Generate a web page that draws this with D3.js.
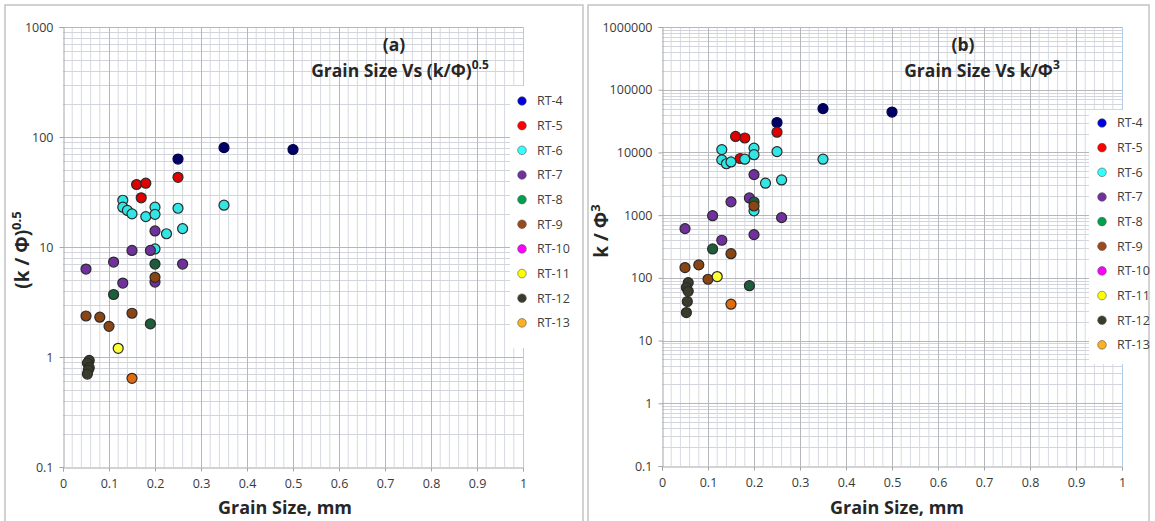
<!DOCTYPE html>
<html>
<head>
<meta charset="utf-8">
<script src="https://cdn.jsdelivr.net/npm/d3@7"></script>
<style>
  html, body { margin: 0; padding: 0; background: #fff; }
  svg { display: block; font-family: "Open Sans", "Liberation Sans", sans-serif; }
</style>
</head>
<body>
<svg id="chart" width="1155" height="521"></svg>
<script>
// Sample series (grain size in mm), with the two permeability/porosity groupings
const seriesNames = ["RT-4", "RT-5", "RT-6", "RT-7", "RT-8", "RT-9", "RT-10", "RT-11", "RT-12", "RT-13"];
const pointColors = ["#000066", "#e00000", "#33e6e6", "#7030a0", "#1d5e3a", "#8b4513", "#ff00ff", "#ffff33", "#3b3b2b", "#e36c0a"];
const legendColors = ["#0000dd", "#ff0000", "#33ffff", "#7030a0", "#00a050", "#9c4a1a", "#ff00ff", "#ffff00", "#3b3b2b", "#ffb020"];

const grainRT4 = [0.25, 0.35, 0.5];
const grainRT5 = [0.16, 0.18, 0.17, 0.25];
const grainRT6 = [0.13, 0.13, 0.14, 0.15, 0.18, 0.2, 0.2, 0.25, 0.35, 0.26, 0.225, 0.2];
const grainRT7 = [0.2, 0.15, 0.19, 0.11, 0.05, 0.26, 0.13, 0.2];
const grainRT8 = [0.2, 0.11, 0.19];
const grainRT9 = [0.2, 0.05, 0.08, 0.15, 0.1];
const grainRT10 = [];
const grainRT11 = [0.12];
const grainRT12 = [0.057, 0.053, 0.057, 0.055, 0.053];
const grainRT13 = [0.15];

// (k/phi)^0.5
const sqrtRT4 = [63, 80, 77];
const sqrtRT5 = [37, 38, 28, 43];
const sqrtRT6 = [26.6, 23, 21.5, 20, 18.9, 23, 19.8, 22.5, 24, 14.7, 13.2, 9.6];
const sqrtRT7 = [14, 9.3, 9.3, 7.3, 6.3, 7.0, 4.7, 4.8];
const sqrtRT8 = [7.0, 3.7, 2.0];
const sqrtRT9 = [5.3, 2.36, 2.3, 2.5, 1.9];
const sqrtRT10 = [];
const sqrtRT11 = [1.2];
const sqrtRT12 = [0.93, 0.88, 0.80, 0.76, 0.70];
const sqrtRT13 = [0.64];

// k/phi^3
const cubeRT4 = [30000, 50000, 44000];
const cubeRT5 = [18000, 17000, 8000, 21000];
const cubeRT6 = [11100, 7600, 6600, 7050, 7800, 11700, 9200, 10300, 7800, 3640, 3230, 1170];
const cubeRT7 = [4430, 1630, 1880, 980, 610, 912, 398, 489];
const cubeRT8 = [1620, 289, 75];
const cubeRT9 = [1400, 146, 161, 243, 95];
const cubeRT10 = [];
const cubeRT11 = [105];
const cubeRT12 = [84, 70, 61, 42, 28];
const cubeRT13 = [38];

const xTicks = [0, 0.1, 0.2, 0.3, 0.4, 0.5, 0.6, 0.7, 0.8, 0.9, 1];
const yTicksA = [0.1, 1, 10, 100, 1000];
const yTicksB = [0.1, 1, 10, 100, 1000, 10000, 100000, 1000000];

const grains = [grainRT4, grainRT5, grainRT6, grainRT7, grainRT8, grainRT9, grainRT10, grainRT11, grainRT12, grainRT13];
const sqrtVals = [sqrtRT4, sqrtRT5, sqrtRT6, sqrtRT7, sqrtRT8, sqrtRT9, sqrtRT10, sqrtRT11, sqrtRT12, sqrtRT13];
const cubeVals = [cubeRT4, cubeRT5, cubeRT6, cubeRT7, cubeRT8, cubeRT9, cubeRT10, cubeRT11, cubeRT12, cubeRT13];

const svg = d3.select("#chart");

function drawPanel(cfg) {
  const g = svg.append("g");
  // panel frame
  g.append("rect").attr("x", cfg.frame[0]).attr("y", cfg.frame[1])
    .attr("width", cfg.frame[2]).attr("height", cfg.frame[3])
    .attr("fill", "#fff").attr("stroke", "#c4c4c4").attr("stroke-width", 1.5);

  const x = d3.scaleLinear().domain([0, 1]).range([cfg.left, cfg.right]);
  const y = d3.scaleLog().domain(cfg.yDomain).range([cfg.bottom, cfg.top]);

  // minor vertical grid
  const minorX = d3.range(0, 51).map(i => i / 50).filter(v => Math.round(v * 50) % 5 !== 0);
  g.append("g").selectAll("line").data(minorX).join("line")
    .attr("x1", d => x(d)).attr("x2", d => x(d))
    .attr("y1", cfg.top).attr("y2", cfg.bottom)
    .attr("stroke", "#d8dae2").attr("stroke-width", 1);

  // minor horizontal grid
  const lo = Math.log10(cfg.yDomain[0]), hi = Math.log10(cfg.yDomain[1]);
  const minorY = [];
  for (let e = lo; e < hi; e++) for (let m = 2; m <= 9; m++) minorY.push(m * Math.pow(10, e));
  g.append("g").selectAll("line").data(minorY).join("line")
    .attr("x1", cfg.left).attr("x2", cfg.right)
    .attr("y1", d => Math.round(y(d)) + 0.5).attr("y2", d => Math.round(y(d)) + 0.5)
    .attr("stroke", "#d2d5dc").attr("stroke-width", 1);

  // major grid
  g.append("g").selectAll("line").data(xTicks.slice(1, -1)).join("line")
    .attr("x1", d => Math.round(x(d)) + 0.5).attr("x2", d => Math.round(x(d)) + 0.5)
    .attr("y1", cfg.top).attr("y2", cfg.bottom)
    .attr("stroke", "#b5b7bd").attr("stroke-width", 1);
  g.append("g").selectAll("line").data(cfg.yTicks.slice(1)).join("line")
    .attr("x1", cfg.left).attr("x2", cfg.right)
    .attr("y1", d => Math.round(y(d)) + 0.5).attr("y2", d => Math.round(y(d)) + 0.5)
    .attr("stroke", "#b5b7bd").attr("stroke-width", 1);

  // right edge
  g.append("line").attr("x1", cfg.right + 0.5).attr("x2", cfg.right + 0.5)
    .attr("y1", cfg.top).attr("y2", cfg.bottom).attr("stroke", "#b4cde6");

  // axes
  const xAxis = d3.axisBottom(x).tickValues(xTicks).tickSize(4).tickPadding(8)
    .tickFormat(d => d3.format("~g")(d));
  const gx = g.append("g").attr("transform", `translate(0,${cfg.bottom + 0.5})`).call(xAxis);
  const yAxis = d3.axisLeft(y).tickValues(cfg.yTicks).tickSize(4).tickPadding(6)
    .tickFormat(d => String(d));
  const gy = g.append("g").attr("transform", `translate(${cfg.left + 0.5},0)`).call(yAxis);
  [gx, gy].forEach(a => {
    a.select(".domain").attr("stroke", "#a6a6a6");
    a.selectAll(".tick line").attr("stroke", "#a6a6a6");
    a.selectAll("text").attr("fill", "#3a3a3a").attr("font-size", 12.5)
      .attr("font-family", "'Open Sans', sans-serif");
  });

  // points
  const pts = [];
  seriesNames.forEach((s, i) => {
    grains[i].forEach((gs, j) => pts.push({ s: i, gx: gs, v: cfg.values[i][j] }));
  });
  g.append("g").selectAll("circle").data(pts).join("circle")
    .attr("cx", d => x(d.gx)).attr("cy", d => y(d.v)).attr("r", 5)
    .attr("fill", d => pointColors[d.s])
    .attr("stroke", d => d.s === 0 ? "#000044" : "#2a2a2a").attr("stroke-width", 1.2);

  // titles
  g.append("text").attr("x", cfg.titleX).attr("y", 51).attr("text-anchor", "middle")
    .attr("font-weight", "bold").attr("fill", "#262626").attr("font-size", 17.5)
    .text(cfg.panelTag);
  const t2 = g.append("text").attr("x", cfg.titleX2).attr("y", 77).attr("text-anchor", "middle")
    .attr("font-weight", "bold").attr("fill", "#262626").attr("font-size", 17.5);
  t2.append("tspan").text(cfg.titleMain);
  t2.append("tspan").attr("font-size", 12).attr("dy", -8).text(cfg.titleSup);

  // x axis title
  g.append("text").attr("x", cfg.xTitleX).attr("y", 514)
    .attr("text-anchor", "middle").attr("font-weight", "bold").attr("font-size", 18)
    .attr("fill", "#262626").text("Grain Size, mm");

  // y axis title
  const yt = g.append("text")
    .attr("transform", `translate(${cfg.yTitleX},${cfg.yTitleY}) rotate(-90)`)
    .attr("text-anchor", "middle").attr("font-weight", "bold").attr("font-size", 19)
    .attr("fill", "#262626");
  yt.append("tspan").text(cfg.yTitleMain);
  yt.append("tspan").attr("font-size", 13).attr("dy", -8).text(cfg.yTitleSup);

  // legend
  g.append("rect").attr("x", cfg.legend[0]).attr("y", cfg.legend[1])
    .attr("width", cfg.legend[2]).attr("height", cfg.legend[3]).attr("fill", "#fff");
  const leg = g.append("g").selectAll("g").data(seriesNames).join("g")
    .attr("transform", (d, i) => `translate(${cfg.legendMarkX},${cfg.legendTop + i * 24.65})`);
  leg.append("circle").attr("r", 4.3).attr("fill", (d, i) => legendColors[i])
    .attr("stroke", "#555").attr("stroke-width", 0.6);
  leg.append("text").attr("x", 15).attr("dy", "0.35em").attr("font-size", 12.5)
    .attr("fill", "#404040").text(d => d);
}

drawPanel({
  frame: [5, 5, 578, 522],
  left: 63, right: 523, top: 27, bottom: 467,
  yDomain: [0.1, 1000], yTicks: yTicksA, values: sqrtVals,
  panelTag: "(a)", titleX: 394, titleX2: 400, xTitleX: 285,
  titleMain: "Grain Size Vs (k/Φ)", titleSup: "0.5",
  yTitleX: 29, yTitleY: 250, yTitleMain: "(k / Φ)", yTitleSup: "0.5",
  legend: [510, 86, 70, 262], legendMarkX: 522, legendTop: 101
});

drawPanel({
  frame: [588, 5, 561, 522],
  left: 662, right: 1122, top: 27, bottom: 466,
  yDomain: [0.1, 1000000], yTicks: yTicksB, values: cubeVals,
  panelTag: "(b)", titleX: 963, titleX2: 982, xTitleX: 897,
  titleMain: "Grain Size Vs k/Φ", titleSup: "3",
  yTitleX: 608, yTitleY: 231, yTitleMain: "k / Φ", yTitleSup: "3",
  legend: [1089, 110, 59, 254], legendMarkX: 1102, legendTop: 123
});
</script>
</body>
</html>
